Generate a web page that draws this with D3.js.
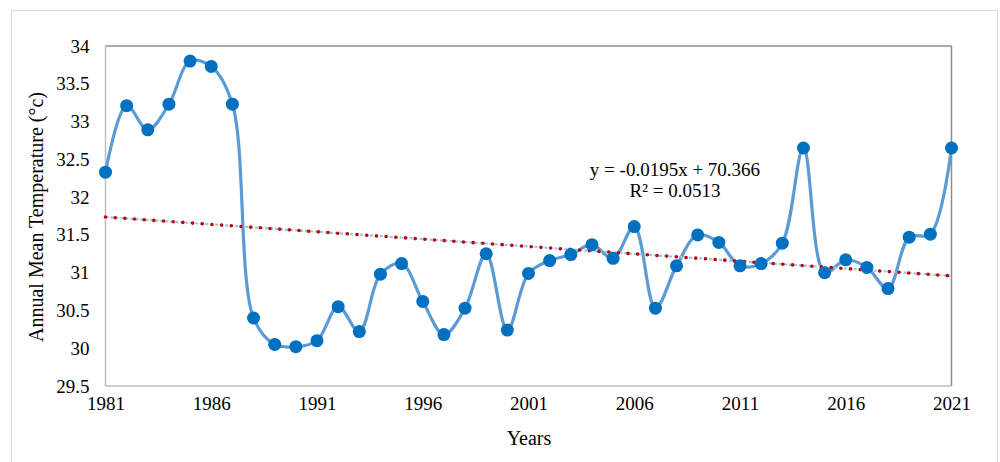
<!DOCTYPE html>
<html>
<head>
<meta charset="utf-8">
<script src="https://cdn.jsdelivr.net/npm/d3@7/dist/d3.min.js"></script>
<style>
  html, body { margin: 0; padding: 0; background: #fff; }
  svg { display: block; }
  svg text { font-family: "Liberation Serif", "Times New Roman", serif; fill: #000; }
</style>
</head>
<body>
<svg id="chart" width="1000" height="462"></svg>
<script>
// Annual mean temperature, 1981–2021
const years = d3.range(1981, 2022);
const temps = [
  32.33, 33.21, 32.89, 33.23, 33.80, 33.73, 33.23, 30.40, 30.05, 30.02,
  30.10, 30.55, 30.22, 30.98, 31.12, 30.62, 30.18, 30.53, 31.25, 30.24,
  30.99, 31.16, 31.24, 31.37, 31.19, 31.61, 30.53, 31.09, 31.50, 31.40,
  31.09, 31.12, 31.39, 32.65, 31.00, 31.17, 31.07, 30.79, 31.47, 31.51,
  32.65
];
const xTicks = [1981, 1986, 1991, 1996, 2001, 2006, 2011, 2016, 2021];
const yTicks = [29.5, 30, 30.5, 31, 31.5, 32, 32.5, 33, 33.5, 34];

// Linear trend as reported on the chart
const trendSlope = -0.0195;
const trendIntercept = 70.366;
const trendLabel = ["y = -0.0195x + 70.366", "R\u00B2 = 0.0513"];

const SERIF = '"Liberation Serif", "Times New Roman", serif';

const svg = d3.select("#chart");
const plot = { left: 105.5, right: 951.5, top: 46, bottom: 386 };

const x = d3.scaleLinear().domain([1981, 2021]).range([plot.left, plot.right]);
const y = d3.scaleLinear().domain([29.5, 34]).range([plot.bottom, plot.top]);

// Outer chart frame
svg.append("rect")
  .attr("x", 11.5).attr("y", 10.5)
  .attr("width", 986).attr("height", 470)
  .attr("fill", "none").attr("stroke", "#d9d9d9").attr("stroke-width", 1);

// Plot area frame
svg.append("line").attr("x1", plot.left).attr("x2", plot.right).attr("y1", plot.top).attr("y2", plot.top)
  .attr("stroke", "#8c8c8c").attr("stroke-width", 1.5);
svg.append("line").attr("x1", plot.right).attr("x2", plot.right).attr("y1", plot.top).attr("y2", plot.bottom)
  .attr("stroke", "#8c8c8c").attr("stroke-width", 1.5);
svg.append("line").attr("x1", plot.left).attr("x2", plot.left).attr("y1", plot.top).attr("y2", plot.bottom)
  .attr("stroke", "#bfbfbf").attr("stroke-width", 1.5);
svg.append("line").attr("x1", plot.left).attr("x2", plot.right).attr("y1", plot.bottom).attr("y2", plot.bottom)
  .attr("stroke", "#bfbfbf").attr("stroke-width", 1.5);

// Axes (labels only)
const xAxis = d3.axisBottom(x).tickValues(xTicks).tickFormat(d3.format("d")).tickSize(0).tickPadding(11);
const gx = svg.append("g").attr("transform", `translate(0,${plot.bottom})`).call(xAxis)
  .attr("font-family", SERIF).attr("font-size", 19);
gx.select(".domain").remove();
gx.selectAll("text").attr("fill", "#000");

const yAxis = d3.axisLeft(y).tickValues(yTicks).tickFormat(d => String(d)).tickSize(0).tickPadding(16);
const gy = svg.append("g").attr("transform", `translate(${plot.left},0)`).call(yAxis)
  .attr("font-family", SERIF).attr("font-size", 19);
gy.select(".domain").remove();
gy.selectAll("text").attr("fill", "#000");

// Axis titles
svg.append("text")
  .attr("x", 529).attr("y", 445)
  .attr("text-anchor", "middle")
  .attr("font-family", SERIF)
  .attr("font-size", 20)
  .text("Years");
svg.append("text")
  .attr("transform", `translate(43,${(plot.top + plot.bottom) / 2 + 1}) rotate(-90)`)
  .attr("text-anchor", "middle")
  .attr("font-family", SERIF)
  .attr("font-size", 20)
  .text("Annual Mean Temperature (\u00B0c)");

const data = years.map((yr, i) => ({ year: yr, value: temps[i] }));

// Smoothed temperature series
const line = d3.line()
  .x(d => x(d.year))
  .y(d => y(d.value))
  .curve(d3.curveCatmullRom.alpha(0.5));

svg.append("path")
  .datum(data)
  .attr("d", line)
  .attr("fill", "none")
  .attr("stroke", "#5b9bd5")
  .attr("stroke-width", 3.2)
  .attr("stroke-linejoin", "round");

// Trend line
const trendPts = [1981, 2021].map(yr => ({ year: yr, value: trendSlope * yr + trendIntercept }));
const trendLine = d3.line().x(d => x(d.year)).y(d => y(d.value));
svg.append("path")
  .datum(trendPts)
  .attr("d", trendLine)
  .attr("fill", "none")
  .attr("stroke", "#9dc3e6")
  .attr("stroke-width", 2.2)
  .attr("stroke-dasharray", "3 2");
svg.append("path")
  .datum(trendPts)
  .attr("d", trendLine)
  .attr("fill", "none")
  .attr("stroke", "#c00000")
  .attr("stroke-width", 3.6)
  .attr("stroke-linecap", "round")
  .attr("stroke-dasharray", "0 9.7");

// Data markers
svg.append("g")
  .selectAll("circle")
  .data(data)
  .join("circle")
  .attr("cx", d => x(d.year))
  .attr("cy", d => y(d.value))
  .attr("r", 6.5)
  .attr("fill", "#0070c0");

// Trend equation
const eq = svg.append("text")
  .attr("text-anchor", "middle")
  .attr("font-family", SERIF)
  .attr("font-size", 19);
eq.append("tspan").attr("x", 675).attr("y", 176).text(trendLabel[0]);
eq.append("tspan").attr("x", 675).attr("y", 197).text(trendLabel[1]);
</script>
</body>
</html>
